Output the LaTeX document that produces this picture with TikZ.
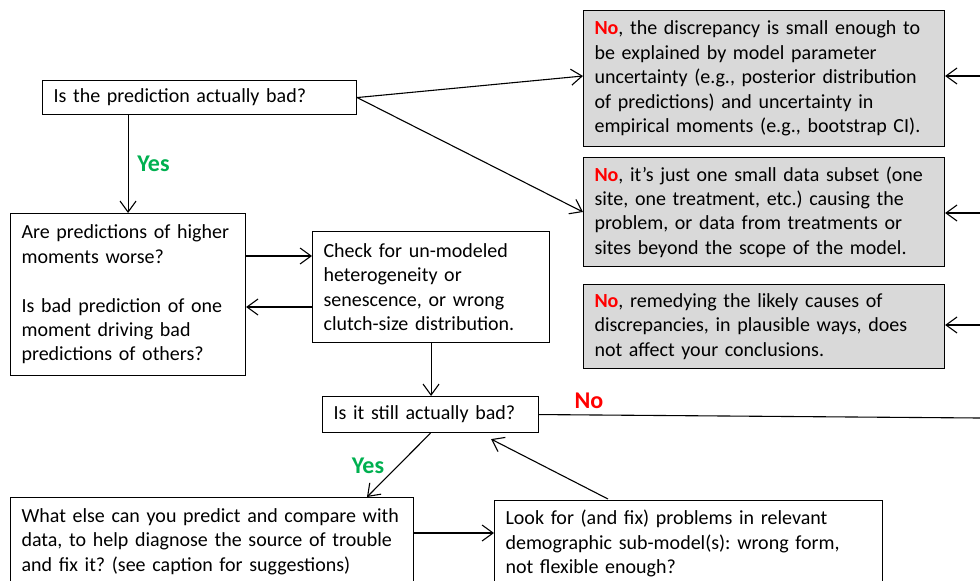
\documentclass[tikz,border=0pt]{standalone}
\usepackage{fontspec}
\setmainfont{Carlito}
\frenchspacing
\usetikzlibrary{arrows.meta,calc}
\definecolor{grayfill}{HTML}{D9D9D9}
\definecolor{nored}{HTML}{FF0000}
\definecolor{yesgreen}{HTML}{00B050}
\tikzset{
 box/.style={draw=black, line width=1.1pt, anchor=north west, align=left, inner xsep=11pt, inner ysep=0pt, font=\fontsize{20}{24.4}\selectfont},
 graybox/.style={box, fill=grayfill},
 arr/.style={line width=1.1pt, -{Straight Barb[length=11pt,width=16pt,line width=1.1pt]}},
 conn/.style={line width=1.1pt},
 nolab/.style={text=nored, font=\fontsize{24}{26}\selectfont\bfseries},
 yeslab/.style={text=yesgreen, font=\fontsize{24}{26}\selectfont\bfseries},
}
\newcommand{\NoW}{\textcolor{nored}{\textbf{No}}}
\begin{document}
\begin{tikzpicture}[x=1pt,y=-1pt]
\useasboundingbox (0,0) rectangle (980,581);
\clip (0,0) rectangle (980,581);
% boxes
\node[box, minimum width=314pt, minimum height=34pt, text width=292pt] (b1) at (42,80) {Is the prediction actually bad?};
\node[graybox, minimum width=361pt, minimum height=136pt, text width=339pt] (g1) at (583,10) {\NoW, the discrepancy is small enough to\\ be explained by model parameter\\ uncertainty (e.g., posterior distribution\\ of predictions) and uncertainty in\\ empirical moments (e.g., bootstrap CI).};
\node[graybox, minimum width=361pt, minimum height=109pt, text width=339pt] (g2) at (583,157) {\NoW, it’s just one small data subset (one\\ site, one treatment, etc.) causing the\\ problem, or data from treatments or\\ sites beyond the scope of the model.};
\node[graybox, minimum width=361pt, minimum height=84pt, text width=339pt] (g3) at (583,284) {\NoW, remedying the likely causes of\\ discrepancies, in plausible ways, does\\ not affect your conclusions.};
\node[box, minimum width=235pt, minimum height=162pt, text width=213pt] (b5) at (10,213) {Are predictions of higher\\ moments worse?\\[24.4pt]Is bad prediction of one\\ moment driving bad\\ predictions of others?};
\node[box, minimum width=237pt, minimum height=111pt, text width=215pt] (b6) at (312,231) {Check for un-modeled\\ heterogeneity or\\ senescence, or wrong\\ clutch-size distribution.};
\node[box, minimum width=216pt, minimum height=36pt, text width=194pt] (b7) at (322,396) {Is it still actually bad?};
\node[box, minimum width=403pt, minimum height=88pt, text width=381pt] (b8) at (10,497) {What else can you predict and compare with\\ data, to help diagnose the source of trouble\\ and fix it? (see caption for suggestions)};
\node[box, minimum width=388pt, minimum height=86pt, text width=366pt] (b9) at (494,500) {Look for (and fix) problems in relevant\\ demographic sub-model(s): wrong form,\\ not flexible enough?};
% free ends at the right edge
\coordinate (r1) at (980,76);
\coordinate (r2) at (980,213);
\coordinate (r3) at (980,325);
\coordinate (r4) at (980,418);
% connectors
\draw[arr] (b1.east) -- (g1.west |- 0,76);
\draw[arr] (b1.east) -- (g2.west |- 0,212);
\draw[arr] (b5.north |- b1.south) -- (b5.north);
\draw[arr] (b5.east |- 0,256) -- (b6.west |- 0,256);
\draw[arr] (b6.west |- 0,307) -- (b5.east |- 0,307);
\draw[arr] (b6.south) -- (b6.south |- b7.north);
\draw[conn] (b7.east) -- (r4);
\draw[arr] (b7.south) -- ($(b8.north west)+(357,0)$);
\draw[arr] ($(b9.north west)+(114,-1)$) -- ($(b7.south east)+(-48,6)$);
\draw[arr] (b8.east |- 0,533) -- (b9.west |- 0,533);
\draw[arr] (r1) -- (g1.east |- r1);
\draw[arr] (r2) -- (g2.east |- r2);
\draw[arr] (r3) -- (g3.east |- r3);
% labels
\node[yeslab] (y1) at (153.5,164) {Yes};
\node[nolab] (n1) at (589,401) {No};
\node[yeslab] (y2) at (368,466) {Yes};
\end{tikzpicture}
\end{document}
